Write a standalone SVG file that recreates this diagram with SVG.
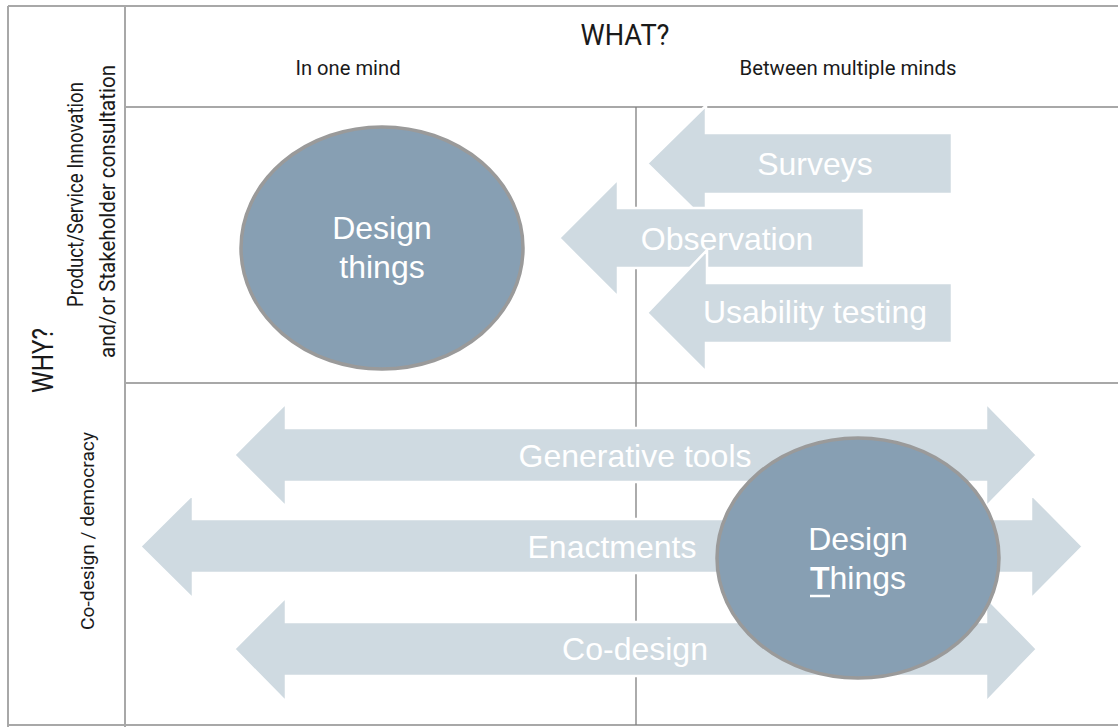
<svg xmlns="http://www.w3.org/2000/svg" width="1118" height="727" viewBox="0 0 1118 727">
  <style>
    .grid { stroke: #a8a8a8; stroke-width: 2; fill: none; }
    .split { stroke: #7f7f7f; stroke-width: 1.3; fill: none; }
    .head { font-family: Roboto, "Liberation Sans", sans-serif; fill: #1a1a1a; }
    .arrow { fill: #cfdae1; stroke: #ffffff; stroke-width: 2.5; stroke-linejoin: miter; }
    .atext { font-family: "Liberation Sans", Arial, sans-serif; font-size: 32px; fill: #ffffff; text-anchor: middle; }
    .blob { fill: #879fb3; stroke: #9a9a9a; stroke-width: 3.5; }
  </style>

  <rect width="1118" height="727" fill="#ffffff"/>

  <!-- table frame -->
  <g id="frame">
    <line class="grid" x1="8" y1="6" x2="1118" y2="6"/>
    <line class="grid" x1="8" y1="6" x2="8" y2="727"/>
    <line class="grid" x1="125" y1="6" x2="125" y2="727"/>
    <line class="grid" x1="125" y1="107" x2="1118" y2="107"/>
    <line class="grid" x1="125" y1="383" x2="1118" y2="383"/>
    <line class="grid" x1="8" y1="725" x2="1118" y2="725"/>
    <line class="split" x1="636" y1="107" x2="636" y2="725"/>
  </g>

  <!-- axis headings -->
  <g id="headings">
    <text class="head" x="625" y="45" font-size="30" text-anchor="middle" textLength="89" lengthAdjust="spacingAndGlyphs">WHAT?</text>
    <text class="head" x="348" y="75" font-size="21" text-anchor="middle" textLength="105" lengthAdjust="spacingAndGlyphs">In one mind</text>
    <text class="head" x="848" y="75" font-size="21" text-anchor="middle" textLength="217" lengthAdjust="spacingAndGlyphs">Between multiple minds</text>
    <text class="head" transform="translate(53,360.5) rotate(-90)" font-size="30" text-anchor="middle" textLength="65" lengthAdjust="spacingAndGlyphs">WHY?</text>
    <text class="head" transform="translate(83,194.5) rotate(-90)" font-size="21.5" text-anchor="middle" textLength="225" lengthAdjust="spacingAndGlyphs">Product/Service Innovation</text>
    <text class="head" transform="translate(115,211.5) rotate(-90)" font-size="21.5" text-anchor="middle" textLength="293" lengthAdjust="spacingAndGlyphs">and/or Stakeholder consultation</text>
    <text class="head" transform="translate(94,531) rotate(-90)" font-size="19" text-anchor="middle" textLength="198" lengthAdjust="spacingAndGlyphs">Co-design / democracy</text>
  </g>

  <!-- method arrows -->
  <g id="connectors">
    <g id="surveys">
      <path class="arrow" d="M647,163.5 L706,105.5 L706,133 L952,133 L952,194 L706,194 L706,221.5 Z"/>
      <text class="atext" x="815" y="175">Surveys</text>
    </g>
    <g id="observation">
      <path class="arrow" d="M559,238 L618,179 L618,208 L864,208 L864,268 L618,268 L618,297 Z"/>
      <text class="atext" x="727" y="250">Observation</text>
    </g>
    <g id="usability">
      <path class="arrow" d="M647,313 L707,250 L707,283 L952,283 L952,343 L706,343 L706,372 Z"/>
      <text class="atext" x="815" y="323">Usability testing</text>
    </g>
    <g id="generative">
      <path class="arrow" d="M234,455 L286,403 L286,428 L986,428 L986,403 L1037,455 L986,507 L986,482 L286,482 L286,507 Z"/>
      <text class="atext" x="635" y="467">Generative tools</text>
    </g>
    <g id="enactments">
      <path class="arrow" d="M140,546.5 L193,494 L193,519 L1031,519 L1031,494 L1083,546.5 L1031,599 L1031,573 L193,573 L193,599 Z"/>
      <text class="atext" x="612" y="558">Enactments</text>
    </g>
    <g id="codesign">
      <path class="arrow" d="M234,649 L286,597 L286,622 L986,622 L986,597 L1037,649 L986,702 L986,676 L286,676 L286,702 Z"/>
      <text class="atext" x="635" y="660">Co-design</text>
    </g>
  </g>

  <!-- design things (one mind) -->
  <g id="design-things">
    <ellipse class="blob" cx="382" cy="248" rx="141" ry="121"/>
    <text class="atext" x="382" y="239">Design</text>
    <text class="atext" x="382" y="278">things</text>
  </g>

  <!-- Design Things (multiple minds) -->
  <g id="design-Things">
    <ellipse class="blob" cx="858" cy="558" rx="141" ry="120"/>
    <text class="atext" x="858" y="550">Design</text>
    <text class="atext" x="858" y="589"><tspan font-weight="bold">T</tspan>hings</text>
    <line x1="810" y1="596" x2="830" y2="596" stroke="#ffffff" stroke-width="2.5"/>
  </g>
</svg>
